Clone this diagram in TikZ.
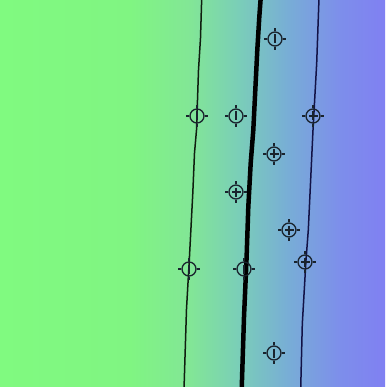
\documentclass[tikz,border=0pt]{standalone}
\usetikzlibrary{calc}
\definecolor{g0}{RGB}{128,250,128}
\definecolor{g1}{RGB}{128,245,130}
\definecolor{g2}{RGB}{130,230,150}
\definecolor{g3}{RGB}{122,205,185}
\definecolor{g4}{RGB}{120,172,215}
\definecolor{g5}{RGB}{125,142,235}
\definecolor{g6}{RGB}{128,128,242}
\definecolor{mkcol}{RGB}{25,35,45}
\definecolor{leftcol}{RGB}{15,30,15}
\definecolor{rightcol}{RGB}{18,18,70}
\pgfdeclarehorizontalshading{bgshade}{100bp}{color(0bp)=(g0); color(25bp)=(g0); color(41.88bp)=(g1); color(49.68bp)=(g2); color(56.17bp)=(g3); color(62.66bp)=(g4); color(69.16bp)=(g5); color(75bp)=(g6); color(100bp)=(g6)}
\tikzset{
  tick/.style={draw=mkcol,line width=1.3pt},
  mk/.style={circle,draw=mkcol,line width=1.3pt,minimum size=14pt,inner sep=0pt,
    append after command={(\tikzlastnode.north) edge[tick] ++(0,3pt)
      (\tikzlastnode.south) edge[tick] ++(0,-3pt)
      (\tikzlastnode.east) edge[tick] ++(3pt,0)
      (\tikzlastnode.west) edge[tick] ++(-3pt,0)}},
  vbar/.style={mk,path picture={\draw[mkcol,line width=1.3pt]
      ([yshift=4.5pt]path picture bounding box.center) -- ([yshift=-4.5pt]path picture bounding box.center);}},
  plusmk/.style={mk,path picture={\draw[mkcol,line width=1.3pt]
      ([yshift=4.5pt]path picture bounding box.center) -- ([yshift=-4.5pt]path picture bounding box.center)
      ([xshift=4.5pt]path picture bounding box.center) -- ([xshift=-4.5pt]path picture bounding box.center);}},
  thinline/.style={line width=1.5pt},
  thickline/.style={line width=4.5pt,black}
}
\begin{document}
\begin{tikzpicture}[x=1pt,y=-1pt]
\shade[shading=bgshade] (0,0) rectangle (385,387);
\useasboundingbox (0,0) rectangle (385,387);
% left thin line
\coordinate (l0) at (201.7,-2);
\coordinate (l1) at (200.5,38);
\coordinate (l2) at (198.5,70);
\coordinate (l3) at (196.5,130);
\coordinate (l4) at (194.5,153);
\coordinate (l5) at (192.8,193);
\coordinate (l6) at (189.3,260);
\coordinate (l7) at (186.5,309);
\coordinate (l8) at (184,389);
\draw[thinline,leftcol] (l0) -- (l1) -- (l2) -- (l3) -- (l4) -- (l5) -- (l6) -- (l7) -- (l8);
% thick line
\coordinate (t0) at (260.7,-2);
\coordinate (t1) at (259.3,17);
\coordinate (t2) at (257.3,50);
\coordinate (t3) at (253.3,130);
\coordinate (t4) at (250.7,163);
\coordinate (t5) at (248.3,207);
\coordinate (t6) at (246.5,260);
\coordinate (t7) at (244,317);
\coordinate (t8) at (241.7,389);
\draw[thickline] (t0) -- (t1) -- (t2) -- (t3) -- (t4) -- (t5) -- (t6) -- (t7) -- (t8);
% right thin line
\coordinate (r0) at (319,-2);
\coordinate (r1) at (316.7,63);
\coordinate (r2) at (313,130);
\coordinate (r3) at (308.3,230);
\coordinate (r4) at (306,260);
\coordinate (r5) at (302.3,324);
\coordinate (r6) at (300.7,389);
\draw[thinline,rightcol] (r0) -- (r1) -- (r2) -- (r3) -- (r4) -- (r5) -- (r6);
% markers
\node[vbar] (m1) at (275,39) {};
\node[vbar] (m2) at (197,116) {};
\node[vbar] (m3) at (236,116) {};
\node[plusmk] (m4) at (313,116) {};
\node[plusmk] (m5) at (274,154) {};
\node[plusmk] (m6) at (236,192) {};
\node[plusmk] (m7) at (289,230) {};
\node[plusmk] (m8) at (305,262) {};
\node[vbar] (m9) at (189,269) {};
\node[vbar] (m10) at (244,269) {};
\node[vbar] (m11) at (274,353) {};
\end{tikzpicture}
\end{document}
